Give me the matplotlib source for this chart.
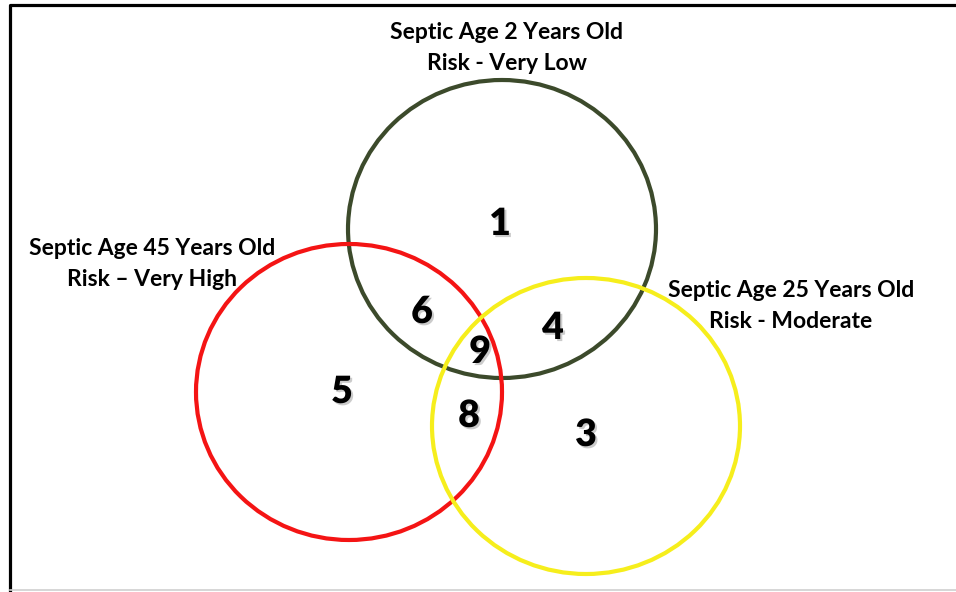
import matplotlib.pyplot as plt
import matplotlib.patheffects as pe
from matplotlib.patches import Ellipse

# circles: label, centre x, centre y, width, height, colour (pixel space)
circle_names = ['2 years', '45 years', '25 years']
circle_x = [502, 349, 586]
circle_y = [229, 392, 426]
circle_w = [308, 306, 308]
circle_h = [298, 296, 296]
circle_colors = ['#3c4a2b', '#f41414', '#f6ee1c']

# region numbers and where they sit
region_labels = ['1', '6', '4', '9', '5', '8', '3']
region_x = [500, 422, 553, 480, 342, 469, 586]
region_y = [224, 312, 328, 352, 392, 416, 435]

# group captions
caption_text = ['Septic Age 2 Years Old\nRisk - Very Low',
                'Septic Age 45 Years Old\nRisk \u2013 Very High',
                'Septic Age 25 Years Old\nRisk - Moderate']
caption_x = [507, 152, 791]
caption_y = [48, 264, 306]

W, H = 956, 592
fig = plt.figure(figsize=(W / 100, H / 100), dpi=100)
ax = fig.add_axes([0, 0, 1, 1])
ax.set_xlim(0, W)
ax.set_ylim(H, 0)
ax.axis('off')

# frame: left and top black, thin grey bottom
ax.plot([10, 10, W], [H, 5, 5], color='black', lw=2.3, solid_capstyle='butt')
ax.plot([10, W], [590, 590], color='#d0d0d0', lw=1.2)

for n in range(len(circle_names)):
    e = Ellipse((circle_x[n], circle_y[n]), circle_w[n], circle_h[n],
                fill=False, ec=circle_colors[n], lw=3)
    ax.add_patch(e)

shadow = [pe.SimplePatchShadow(offset=(1.5, -1.5), shadow_rgbFace='#999999', alpha=0.5),
          pe.Normal()]
for n in range(len(region_labels)):
    ax.text(region_x[n], region_y[n], region_labels[n], fontsize=27,
            fontweight='heavy', family='Lato', color='black',
            ha='center', va='center', path_effects=shadow)

for n in range(len(caption_text)):
    ax.text(caption_x[n], caption_y[n], caption_text[n], fontsize=16.5,
            fontweight='bold', family='Lato', color='black',
            ha='center', va='center', multialignment='center', linespacing=1.55)

fig.savefig('out.png', dpi=100)
